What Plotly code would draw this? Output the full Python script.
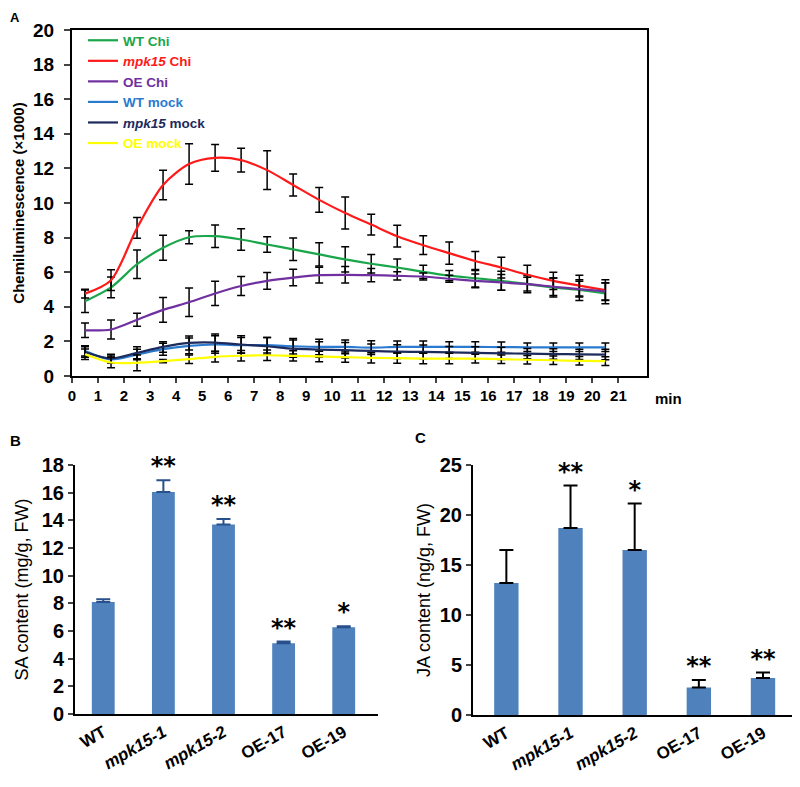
import plotly.graph_objects as go

# ---------------- Panel A data ----------------
time_min = [0.5, 1.5, 2.5, 3.5, 4.5, 5.5, 6.5, 7.5, 8.5, 9.5, 10.5,
            11.5, 12.5, 13.5, 14.5, 15.5, 16.5, 17.5, 18.5, 19.5, 20.5]

wt_chi = [4.32, 5.12, 6.46, 7.41, 8.02, 8.08, 7.89, 7.6, 7.32, 7.03, 6.74,
          6.49, 6.27, 6.02, 5.8, 5.65, 5.5, 5.31, 5.12, 4.97, 4.78]
wt_chi_err = [0.65, 0.6, 0.83, 0.72, 0.38, 0.65, 0.62, 0.45, 0.65, 0.67, 0.73,
              0.53, 0.5, 0.38, 0.3, 0.5, 0.55, 0.5, 0.55, 0.6, 0.6]

mpk15_chi = [4.76, 5.54, 8.56, 11.04, 12.25, 12.61, 12.48, 11.9, 11.04, 10.18, 9.42,
             8.75, 8.08, 7.56, 7.1, 6.65, 6.27, 5.85, 5.5, 5.22, 4.97]
mpk15_chi_err = [0.25, 0.6, 0.6, 0.85, 1.17, 0.77, 0.69, 1.12, 0.64, 0.72, 0.93,
                 0.6, 0.63, 0.54, 0.64, 0.55, 0.6, 0.55, 0.5, 0.6, 0.6]

oe_chi = [2.64, 2.69, 3.25, 3.82, 4.26, 4.77, 5.2, 5.5, 5.69, 5.83, 5.85,
          5.83, 5.79, 5.75, 5.62, 5.5, 5.41, 5.31, 5.16, 5.02, 4.89]
oe_chi_err = [0.42, 0.55, 0.38, 0.72, 0.82, 0.7, 0.55, 0.48, 0.48, 0.46, 0.48,
              0.38, 0.24, 0.2, 0.2, 0.4, 0.45, 0.4, 0.5, 0.45, 0.5]

wt_mock = [1.45, 0.96, 1.24, 1.55, 1.74, 1.82, 1.78, 1.78, 1.72, 1.68, 1.68,
           1.64, 1.68, 1.68, 1.68, 1.68, 1.67, 1.66, 1.66, 1.66, 1.66]
wt_mock_err = [0.3, 0.2, 0.3, 0.35, 0.45, 0.5, 0.45, 0.45, 0.45, 0.45, 0.4,
               0.4, 0.35, 0.35, 0.3, 0.3, 0.3, 0.25, 0.25, 0.25, 0.25]

mpk15_mock = [1.39, 1.01, 1.34, 1.68, 1.91, 1.93, 1.82, 1.72, 1.58, 1.53, 1.49,
              1.45, 1.41, 1.39, 1.36, 1.34, 1.31, 1.29, 1.27, 1.25, 1.24]
mpk15_mock_err = [0.3, 0.25, 0.35, 0.3, 0.4, 0.5, 0.5, 0.5, 0.5, 0.45, 0.45,
                  0.4, 0.4, 0.4, 0.35, 0.35, 0.35, 0.3, 0.3, 0.3, 0.3]

oe_mock = [1.26, 0.78, 0.76, 0.86, 0.97, 1.11, 1.17, 1.2, 1.16, 1.13, 1.09,
           1.05, 1.03, 1.01, 1.01, 1.0, 0.97, 0.94, 0.91, 0.88, 0.86]
oe_mock_err = [0.3, 0.3, 0.45, 0.1, 0.25, 0.3, 0.3, 0.3, 0.3, 0.3, 0.3,
               0.3, 0.3, 0.3, 0.3, 0.25, 0.25, 0.25, 0.25, 0.25, 0.25]

series_names = ["WT Chi", "<i>mpk15</i> Chi", "OE Chi", "WT mock", "<i>mpk15</i> mock", "OE mock"]
series_colors = ["#1aa64a", "#ff1a1a", "#7030a0", "#2a7bd0", "#1c2a5c", "#ffff00"]

# ---------------- Panels B / C data ----------------
genotypes = ["WT", "<i>mpk15-1</i>", "<i>mpk15-2</i>", "OE-17", "OE-19"]
sa_content = [8.1, 16.05, 13.7, 5.12, 6.28]
sa_err = [0.2, 0.85, 0.4, 0.12, 0.07]
sa_sig = ["", "**", "**", "**", "*"]

ja_content = [13.2, 18.7, 16.5, 2.75, 3.7]
ja_err = [3.3, 4.25, 4.65, 0.75, 0.55]
ja_sig = ["", "**", "*", "**", "**"]

FONT = "Arial, Liberation Sans, sans-serif"
PAGE_OFF = 8            # default body margin of the html page
FW, FH = 800 - PAGE_OFF, 787 - PAGE_OFF


def sx(px):
    return (px - PAGE_OFF) / FW


def sy(py):
    return 1 - (py - PAGE_OFF) / FH


fig = go.Figure()

a_series = [
    (wt_chi, wt_chi_err), (mpk15_chi, mpk15_chi_err), (oe_chi, oe_chi_err),
    (wt_mock, wt_mock_err), (mpk15_mock, mpk15_mock_err), (oe_mock, oe_mock_err),
]
for (vals, errs), name, col in zip(a_series, series_names, series_colors):
    fig.add_trace(go.Scatter(
        x=time_min, y=vals, mode="lines",
        name=f'<span style="color:{col}"><b>{name}</b></span>',
        line=dict(color=col, width=2.2, shape="spline", smoothing=0.8),
        error_y=dict(type="data", array=errs, visible=True, color="black",
                     thickness=1.5, width=4),
        xaxis="x", yaxis="y", showlegend=True,
    ))

star_font = dict(family="DejaVu Sans, sans-serif", size=24, color="black", weight="bold")

# Panel B bars
fig.add_trace(go.Bar(
    x=genotypes, y=sa_content, marker=dict(color="#4f81bd", line=dict(width=0)),
    width=0.38,
    error_y=dict(type="data", array=sa_err, arrayminus=[0] * len(sa_err), symmetric=False,
                 visible=True, color="#27508c", thickness=2, width=7),
    xaxis="x2", yaxis="y2", showlegend=False,
))
fig.add_trace(go.Scatter(
    x=genotypes, y=[v + e for v, e in zip(sa_content, sa_err)], mode="text",
    text=sa_sig, textposition="top center", cliponaxis=False,
    textfont=star_font,
    xaxis="x2", yaxis="y2", showlegend=False,
))

# Panel C bars
fig.add_trace(go.Bar(
    x=genotypes, y=ja_content, marker=dict(color="#4f81bd", line=dict(width=0)),
    width=0.38,
    error_y=dict(type="data", array=ja_err, arrayminus=[0] * len(ja_err), symmetric=False,
                 visible=True, color="black", thickness=2, width=7),
    xaxis="x3", yaxis="y3", showlegend=False,
))
fig.add_trace(go.Scatter(
    x=genotypes, y=[v + e for v, e in zip(ja_content, ja_err)], mode="text",
    text=ja_sig, textposition="top center", cliponaxis=False,
    textfont=star_font,
    xaxis="x3", yaxis="y3", showlegend=False,
))

tickfont_bold = lambda s: dict(family=FONT, size=s, color="black", weight="bold")

fig.update_layout(
    width=FW, height=FH, margin=dict(l=0, r=0, t=0, b=0, autoexpand=False),
    paper_bgcolor="white", plot_bgcolor="white",
    font=dict(family=FONT, color="black"),
    bargap=0.6,
    legend=dict(x=sx(83), y=sy(25), xanchor="left", yanchor="top",
                bgcolor="rgba(0,0,0,0)", font=dict(family=FONT, size=13.5),
                itemwidth=30, tracegroupgap=0, traceorder="normal"),
    xaxis=dict(domain=[sx(72), sx(647)], range=[0, 22.1], automargin=False,
               tickvals=list(range(22)), ticks="outside", ticklen=5, tickwidth=1.5,
               showline=True, linecolor="black", linewidth=2, mirror=True,
               showgrid=False, zeroline=False, tickfont=tickfont_bold(15)),
    yaxis=dict(domain=[sy(376), sy(30)], range=[0, 20], dtick=2, automargin=False,
               ticks="outside", ticklen=6, tickwidth=1.5, ticklabelstandoff=6,
               showline=True, linecolor="black", linewidth=2, mirror=True,
               showgrid=False, zeroline=False, tickfont=tickfont_bold(19),
               title=dict(text="<b>Chemiluminescence (×1000)</b>",
                          font=dict(family=FONT, size=15), standoff=5)),
    xaxis2=dict(domain=[sx(75), sx(378)], range=[-0.47, 4.57], anchor="y2", automargin=False,
                showline=True, linecolor="black", linewidth=2, ticks="",
                showgrid=False, zeroline=False, tickangle=-30,
                tickfont=tickfont_bold(17)),
    yaxis2=dict(domain=[sy(714), sy(465)], range=[0, 18], dtick=2, anchor="x2",
                automargin=False,
                ticks="outside", ticklen=5, tickwidth=1.5,
                showline=True, linecolor="black", linewidth=2,
                showgrid=False, zeroline=False, tickfont=tickfont_bold(20),
                title=dict(text="SA content (mg/g, FW)",
                           font=dict(family=FONT, size=18), standoff=8)),
    xaxis3=dict(domain=[sx(473), sx(797)], range=[-0.52, 4.53], anchor="y3", automargin=False,
                showline=True, linecolor="black", linewidth=2, ticks="",
                showgrid=False, zeroline=False, tickangle=-30,
                tickfont=tickfont_bold(17)),
    yaxis3=dict(domain=[sy(715), sy(465)], range=[0, 25], dtick=5, anchor="x3",
                automargin=False,
                ticks="outside", ticklen=5, tickwidth=1.5,
                showline=True, linecolor="black", linewidth=2,
                showgrid=False, zeroline=False, tickfont=tickfont_bold(20),
                title=dict(text="JA content (ng/g, FW)",
                           font=dict(family=FONT, size=18), standoff=4)),
    annotations=[
        dict(text="<b>A</b>", x=0, y=1, xref="paper", yref="paper",
             showarrow=False, xanchor="left", yanchor="top", font=dict(size=13)),
        dict(text="<b>B</b>", x=0, y=sy(440), xref="paper", yref="paper",
             showarrow=False, xanchor="left", yanchor="middle", font=dict(size=15)),
        dict(text="<b>C</b>", x=sx(420), y=sy(438), xref="paper", yref="paper",
             showarrow=False, xanchor="center", yanchor="middle", font=dict(size=15)),
        dict(text="<b>min</b>", x=sx(668), y=sy(398), xref="paper", yref="paper",
             showarrow=False, xanchor="center", yanchor="middle", font=dict(size=15)),
    ],
)

fig.write_html("out.html")
